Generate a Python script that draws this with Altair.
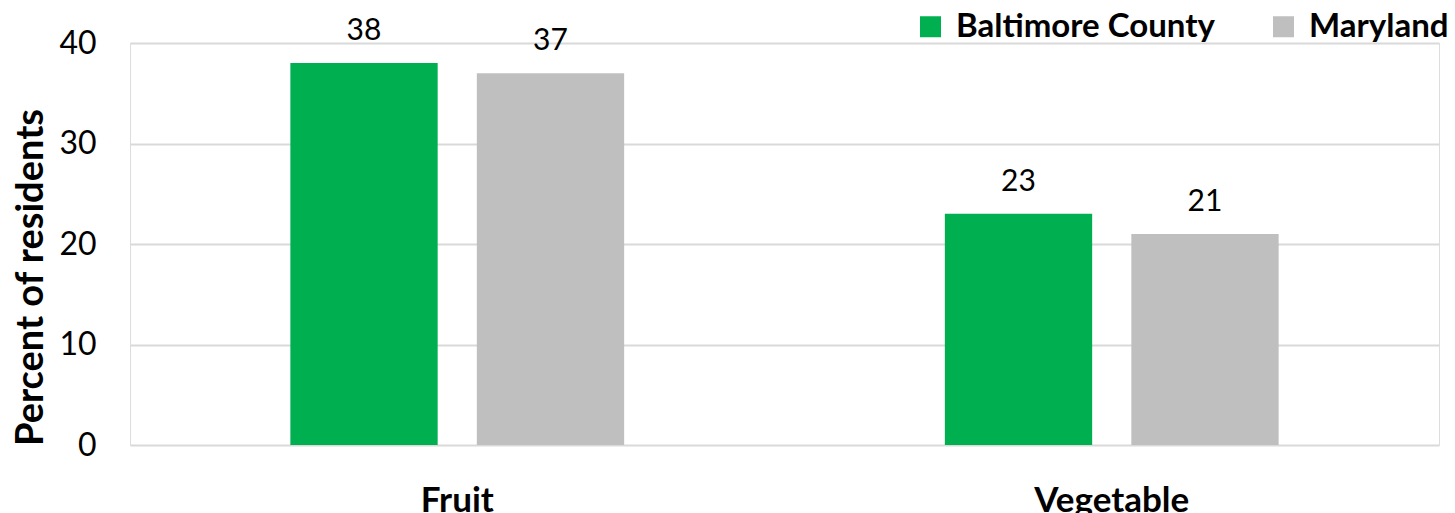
import altair as alt
import pandas as pd

categories = ["Fruit", "Vegetable"]
series = ["Baltimore County", "Maryland"]
baltimore = [38, 23]
maryland = [37, 21]

rows = []
for i, c in enumerate(categories):
    rows.append({"cat": c, "series": series[0], "value": baltimore[i]})
    rows.append({"cat": c, "series": series[1], "value": maryland[i]})
df = pd.DataFrame(rows)

FONT = "Lato"

x_enc = alt.X("cat:N", sort=categories, title=None,
              scale=alt.Scale(paddingInner=0, paddingOuter=0),
              axis=alt.Axis(labelAngle=0, labelFontSize=35, labelFontWeight="bold",
                            labelFont=FONT, labelColor="black", labelPadding=38,
                            labelBaseline="top", ticks=False, domain=False))
xoff = alt.XOffset("series:N", sort=series,
                   scale=alt.Scale(paddingInner=0.21, paddingOuter=0.86))

bars = alt.Chart(df).mark_bar().encode(
    x=x_enc,
    xOffset=xoff,
    y=alt.Y("value:Q", title="Percent of residents",
            scale=alt.Scale(domain=[0, 40], nice=False),
            axis=alt.Axis(values=[0, 10, 20, 30, 40], labelFontSize=32, labelFont=FONT,
                          labelColor="black", labelPadding=34, ticks=False, domain=False,
                          gridColor="#D9D9D9", gridWidth=2,
                          titleFont=FONT, titleFontSize=38, titleFontWeight="bold",
                          titleColor="black", titleAngle=270, titleBaseline="middle",
                          titleAlign="center", titleX=-99, titleY=234)),
    color=alt.Color("series:N", sort=series,
                    scale=alt.Scale(domain=series, range=["#00B050", "#BFBFBF"]),
                    legend=alt.Legend(title=None, orient="none", direction="horizontal",
                                      legendX=784, legendY=-33,
                                      symbolType="square", symbolSize=441,
                                      symbolStrokeWidth=0, symbolOpacity=1,
                                      labelFont=FONT, labelFontSize=33,
                                      labelFontWeight="bold", labelColor="black",
                                      labelOffset=9, columnPadding=52, labelLimit=400)),
)

labels = alt.Chart(df).mark_text(font=FONT, fontSize=30, color="black",
                                 baseline="alphabetic", dy=-23).encode(
    x=alt.X("cat:N", sort=categories),
    xOffset=xoff,
    y=alt.Y("value:Q"),
    text=alt.Text("value:Q"),
)

chart = alt.layer(bars, labels).properties(
    width=1309, height=402,
    autosize=alt.AutoSizeParams(type="none"),
    padding={"left": 130, "top": 43, "right": 16, "bottom": 68},
).configure_view(stroke=None).configure(background="white")

chart.save("out.html", embed_options={"renderer": "svg", "actions": False})
